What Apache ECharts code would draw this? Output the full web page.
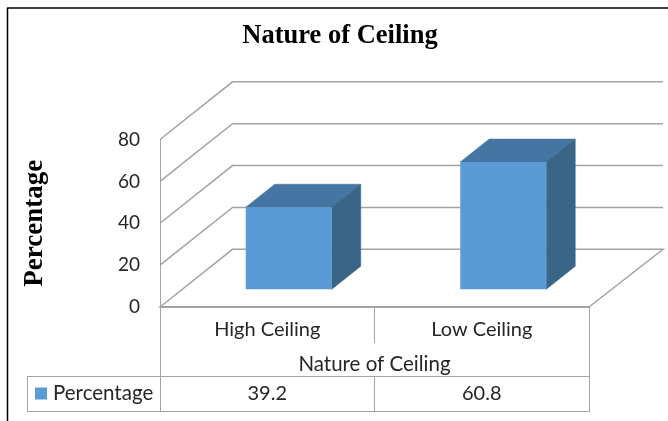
<!DOCTYPE html>
<html><head><meta charset="utf-8">
<style>html,body{margin:0;padding:0;background:#fff}#c{width:668px;height:421px}</style>
<script src="https://cdn.jsdelivr.net/npm/echarts@6/dist/echarts.min.js"></script>
</head><body><div id="c"></div>
<script>
var categories = ['High Ceiling', 'Low Ceiling'];
var percentage = [39.2, 60.8];
var yTicks = [0, 20, 40, 60, 80];
var seriesName = 'Percentage';
var axisTitle = 'Nature of Ceiling';
var chartTitle = 'Nature of Ceiling';

var gridColor = '#a3a3a3', textColor = '#262626', bodyFont = 'Lato';
var wallDx = 72.5, wallDy = -57.7;   // depth of the 3D box
var floorDx = 21.5, floorDy = -17.7; // bar front offset into the box
var barDx = 29, barDy = -23, barW = 86;

var chart = echarts.init(document.getElementById('c'), null, {renderer: 'canvas'});
function line(x1, y1, x2, y2, color, w) {
  return {type: 'line', silent: true, z: 5, shape: {x1: x1, y1: y1, x2: x2, y2: y2},
          style: {stroke: color || gridColor, lineWidth: w || 1}};
}
chart.setOption({
  animation: false,
  backgroundColor: '#fff',
  title: {text: chartTitle, left: 335, top: 18, textAlign: 'center',
    textStyle: {fontFamily: 'Liberation Serif', fontWeight: 'bold', fontSize: 26.5, color: '#000'}},
  grid: {left: 160, right: 79, top: 139.5, bottom: 114},
  legend: {data: [seriesName], left: 30, top: 378, itemWidth: 12, itemHeight: 12, itemGap: 6,
    icon: 'rect', textStyle: {fontFamily: bodyFont, fontSize: 20.5, color: textColor, padding: [0,0,0,1]}},
  xAxis: {type: 'category', data: categories,
    axisLine: {lineStyle: {color: gridColor, width: 2}},
    axisTick: {show: true, length: 36, lineStyle: {color: gridColor, width: 1}},
    axisLabel: {fontFamily: bodyFont, fontSize: 20, color: textColor, margin: 13},
    name: axisTitle, nameLocation: 'middle', nameGap: 47,
    nameTextStyle: {fontFamily: bodyFont, fontSize: 20.5, color: textColor}},
  yAxis: {type: 'value', min: 0, max: 80, interval: 20,
    splitLine: {show: false},
    axisLine: {show: true, lineStyle: {color: gridColor, width: 1}},
    axisTick: {show: false},
    axisLabel: {fontFamily: bodyFont, fontSize: 19, color: textColor, margin: 20, padding: [7, 0, 0, 0]},
    name: seriesName, nameLocation: 'middle', nameGap: 111, nameRotate: 90,
    nameTextStyle: {fontFamily: 'Liberation Serif', fontWeight: 'bold', fontSize: 27, color: '#000'}},
  series: [
    {type: 'custom', name: 'walls', silent: true, z: 1, clip: false,
     data: yTicks.map(function (v) { return [0, v]; }),
     renderItem: function (params, api) {
       var cs = params.coordSys, y = api.coord([0, api.value(1)])[1];
       var pts = [[cs.x, y], [cs.x + wallDx, y + wallDy], [cs.x + cs.width + wallDx + 1.5, y + wallDy]];
       if (api.value(1) === 0) pts.push([cs.x + cs.width, y]);
       return {type: 'polyline', shape: {points: pts},
               style: {fill: null, stroke: gridColor, lineWidth: 1.5}};
     }},
    {type: 'custom', name: seriesName, z: 3, clip: false,
     itemStyle: {color: '#5b9bd5'},
     data: percentage.map(function (v, i) { return [i, v]; }),
     renderItem: function (params, api) {
       var base = api.coord([api.value(0), 0]), top = api.coord([api.value(0), api.value(1)]);
       var xl = base[0] + floorDx - barW / 2, xr = xl + barW;
       var yb = base[1] + floorDy, yt = top[1] + floorDy;
       return {type: 'group', children: [
         {type: 'polygon', shape: {points: [[xl, yt], [xl + barDx, yt + barDy], [xr + barDx, yt + barDy], [xr, yt]]},
          style: {fill: '#4575a2', stroke: '#4575a2', lineWidth: 0.5}},
         {type: 'polygon', shape: {points: [[xr, yt], [xr + barDx, yt + barDy], [xr + barDx, yb + barDy], [xr, yb]]},
          style: {fill: '#3a6587', stroke: '#3a6587', lineWidth: 0.5}},
         {type: 'rect', shape: {x: xl, y: yt, width: barW, height: yb - yt},
          style: {fill: '#5b9bd5'}},
         {type: 'text', style: {text: String(api.value(1)), x: base[0], y: base[1] + 87, align: 'center',
          verticalAlign: 'middle', fontFamily: bodyFont, fontSize: 20, fill: textColor}}
       ]};
     }}
  ],
  graphic: [
    line(7, 8, 668, 8, '#000', 1.5),
    line(7.5, 8, 7.5, 421, '#000', 1.5),
    line(27, 376.5, 589, 376.5),
    line(27, 411.5, 589, 411.5),
    line(27.5, 376, 27.5, 412),
    line(160.5, 306, 160.5, 412),
    line(374.5, 376, 374.5, 412),
    line(589.5, 306, 589.5, 412)
  ]
});
</script></body></html>
